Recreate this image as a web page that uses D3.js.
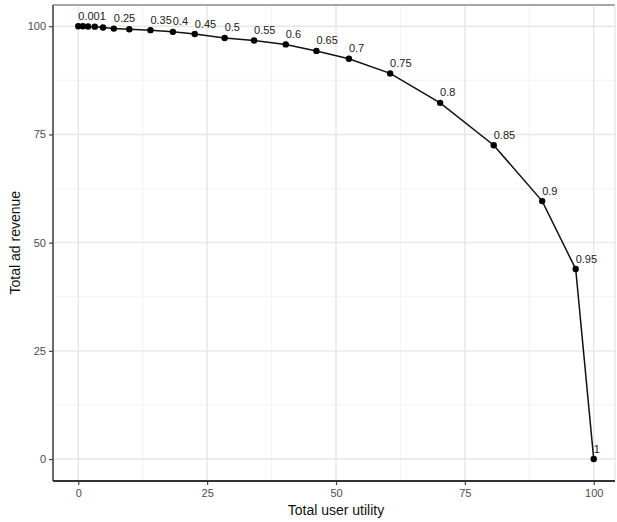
<!DOCTYPE html>
<html>
<head>
<meta charset="utf-8">
<script src="https://cdn.jsdelivr.net/npm/d3@7"></script>
<style>
  html, body { margin: 0; padding: 0; background: #fff; }
  svg { display: block; font-family: "Liberation Sans", Arial, sans-serif; }
</style>
</head>
<body>
<svg id="chart" width="617" height="522"></svg>
<script>
// Trade-off between user utility and ad revenue, one point per weight value
const weights = ["0.001", "0.05", "0.1", "0.15", "0.2", "0.25", "0.3", "0.35", "0.4", "0.45",
                 "0.5", "0.55", "0.6", "0.65", "0.7", "0.75", "0.8", "0.85", "0.9", "0.95", "1"];
const userUtility = [0, 0.9, 1.9, 3.2, 4.8, 6.9, 9.9, 14.0, 18.35, 22.6,
                     28.4, 34.1, 40.25, 46.2, 52.5, 60.5, 70.2, 80.6, 90.0, 96.5, 100];
const adRevenue = [100, 100, 99.95, 99.9, 99.7, 99.45, 99.3, 99.1, 98.7, 98.2,
                   97.3, 96.7, 95.8, 94.3, 92.5, 89.1, 82.3, 72.5, 59.6, 43.9, 0];
// Labels that are drawn (the rest would overlap their neighbours)
const shownLabels = ["0.001", "0.25", "0.35", "0.4", "0.45", "0.5", "0.55", "0.6", "0.65",
                     "0.7", "0.75", "0.8", "0.85", "0.9", "0.95", "1"];
const xTicks = [0, 25, 50, 75, 100];
const yTicks = [0, 25, 50, 75, 100];
const minorTicks = [12.5, 37.5, 62.5, 87.5];

const data = weights.map((w, i) => ({ w, x: userUtility[i], y: adRevenue[i] }));

const svg = d3.select("#chart");
const panel = { left: 53, right: 615, top: 5, bottom: 481 };

const x = d3.scaleLinear().domain([-5, 105]).range([52.5, 619.5]);
const y = d3.scaleLinear().domain([-5, 105]).range([480.7, 4.6]);

// grid
const grid = svg.append("g");
grid.selectAll(".vminor").data(minorTicks).join("line")
  .attr("x1", d => x(d)).attr("x2", d => x(d))
  .attr("y1", panel.top).attr("y2", panel.bottom)
  .attr("stroke", "#f0f0f0").attr("stroke-width", 0.8);
grid.selectAll(".hminor").data(minorTicks).join("line")
  .attr("y1", d => y(d)).attr("y2", d => y(d))
  .attr("x1", panel.left).attr("x2", panel.right)
  .attr("stroke", "#f0f0f0").attr("stroke-width", 0.8);
grid.selectAll(".vmajor").data(xTicks).join("line")
  .attr("x1", d => x(d)).attr("x2", d => x(d))
  .attr("y1", panel.top).attr("y2", panel.bottom)
  .attr("stroke", "#e6e6e6").attr("stroke-width", 1.4);
grid.selectAll(".hmajor").data(yTicks).join("line")
  .attr("y1", d => y(d)).attr("y2", d => y(d))
  .attr("x1", panel.left).attr("x2", panel.right)
  .attr("stroke", "#e6e6e6").attr("stroke-width", 1.4);

// panel border
svg.append("line").attr("x1", panel.left).attr("x2", panel.right)
  .attr("y1", panel.top).attr("y2", panel.top)
  .attr("stroke", "#8a8a8a").attr("stroke-width", 1.6);
svg.append("line").attr("x1", panel.right).attr("x2", panel.right)
  .attr("y1", panel.top).attr("y2", panel.bottom)
  .attr("stroke", "#dddddd").attr("stroke-width", 1);

// axes
const xAxis = d3.axisBottom(x).tickValues(xTicks).tickSizeOuter(0).tickSize(4).tickPadding(4);
const yAxis = d3.axisLeft(y).tickValues(yTicks).tickSizeOuter(0).tickSize(4).tickPadding(3);

const gx = svg.append("g").attr("transform", `translate(0,${panel.bottom})`).call(xAxis);
gx.select(".domain").remove();
gx.selectAll(".tick line").attr("stroke", "#444").attr("stroke-width", 1.2);
gx.selectAll(".tick text").attr("fill", "#4d4d4d").attr("font-size", 11)
  .attr("font-family", "Liberation Sans, Arial, sans-serif");

const gy = svg.append("g").attr("transform", `translate(${panel.left},0)`).call(yAxis);
gy.select(".domain").remove();
gy.selectAll(".tick line").attr("stroke", "#444").attr("stroke-width", 1.2);
gy.selectAll(".tick text").attr("fill", "#4d4d4d").attr("font-size", 11)
  .attr("font-family", "Liberation Sans, Arial, sans-serif");

svg.append("line").attr("x1", panel.left).attr("x2", panel.left)
  .attr("y1", panel.top).attr("y2", panel.bottom)
  .attr("stroke", "#444").attr("stroke-width", 1.6);
svg.append("line").attr("x1", panel.left).attr("x2", panel.right)
  .attr("y1", panel.bottom).attr("y2", panel.bottom)
  .attr("stroke", "#333").attr("stroke-width", 1.8);

// axis titles
svg.append("text").attr("x", x(50)).attr("y", 515)
  .attr("text-anchor", "middle").attr("font-size", 14).attr("fill", "#111")
  .text("Total user utility");
svg.append("text").attr("transform", `translate(20,${y(50)}) rotate(-90)`)
  .attr("text-anchor", "middle").attr("font-size", 14).attr("fill", "#111")
  .text("Total ad revenue");

// frontier line and points
const line = d3.line().x(d => x(d.x)).y(d => y(d.y));
svg.append("path").datum(data).attr("d", line)
  .attr("fill", "none").attr("stroke", "#111").attr("stroke-width", 1.5);
svg.selectAll(".pt").data(data).join("circle")
  .attr("cx", d => x(d.x)).attr("cy", d => y(d.y)).attr("r", 3.2).attr("fill", "#000");

// value labels
svg.selectAll(".lbl").data(data.filter(d => shownLabels.includes(d.w))).join("text")
  .attr("x", d => x(d.x)).attr("y", d => y(d.y) - 6.5)
  .attr("font-size", 11).attr("fill", "#222")
  .text(d => d.w);
</script>
</body>
</html>
